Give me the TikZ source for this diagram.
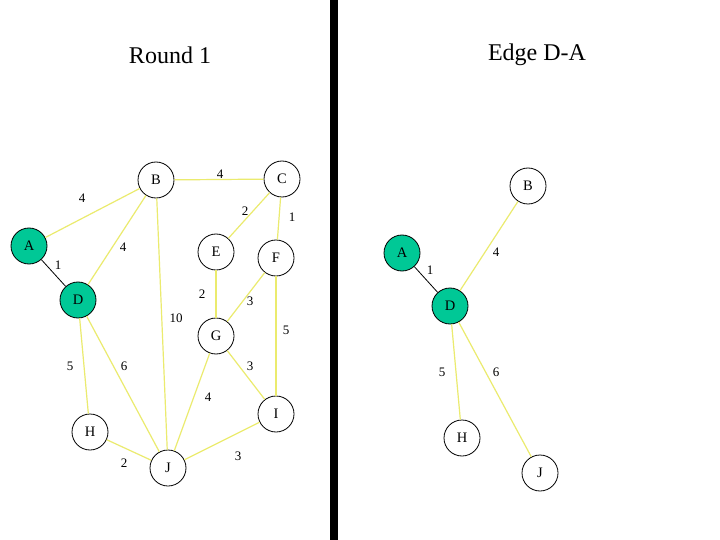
\documentclass[tikz,border=0pt]{standalone}
\usepackage{fontspec}
\setmainfont{Liberation Serif}
\definecolor{teal1}{RGB}{0,200,150}
\definecolor{ylw}{RGB}{235,235,110}
\begin{document}
\begin{tikzpicture}[x=1pt,y=-1pt,
  vtx/.style={circle,draw=black,line width=0.8pt,fill=white,minimum size=36pt,inner sep=0pt,font=\fontsize{14.5}{14.5}\selectfont},
  sel/.style={vtx,fill=teal1},
  yedge/.style={draw=ylw,line width=1.2pt},
  bedge/.style={draw=black,line width=0.8pt},
  wt/.style={font=\fontsize{13}{13}\selectfont,inner sep=0pt},
  ttl/.style={font=\fontsize{24}{24}\selectfont,inner sep=0pt}]
\useasboundingbox (0,0) rectangle (720,540);
\fill[white] (0,0) rectangle (720,540);
% divider
\fill[black] (330,0) rectangle (338,540);
% titles
\node[ttl] (t1) at (170,55) {Round 1};
\node[ttl] (t2) at (537,55) {Edge D-A};
% left graph nodes
\node[vtx] (B) at (156,180) {B};
\node[vtx] (C) at (282,179) {C};
\node[sel] (A) at (29,246) {A};
\node[sel] (D) at (78,300) {D};
\node[vtx] (E) at (216,252) {E};
\node[vtx] (F) at (276,258) {F};
\node[vtx] (G) at (216,336) {G};
\node[vtx] (H) at (90,432) {H};
\node[vtx] (J) at (168,468) {J};
\node[vtx] (I) at (276,414) {I};
% left edges
\draw[yedge] (A) -- (B);
\draw[yedge] (B) -- (C);
\draw[yedge] (C) -- (E);
\draw[yedge] (C) -- (F);
\draw[yedge] (B) -- (D);
\draw[bedge] (A) -- (D);
\draw[yedge] (E) -- (G);
\draw[yedge] (F) -- (G);
\draw[yedge] (B) -- (J);
\draw[yedge] (F) -- (I);
\draw[yedge] (D) -- (H);
\draw[yedge] (D) -- (J);
\draw[yedge] (G) -- (I);
\draw[yedge] (G) -- (J);
\draw[yedge] (H) -- (J);
\draw[yedge] (I) -- (J);
% left weights
\node[wt] (wAB) at (82,198) {4};
\node[wt] (wBC) at (220,174) {4};
\node[wt] (wCE) at (245,211) {2};
\node[wt] (wCF) at (292,217) {1};
\node[wt] (wBD) at (123,247) {4};
\node[wt] (wAD) at (58,265) {1};
\node[wt] (wEG) at (202,294) {2};
\node[wt] (wFG) at (250,301) {3};
\node[wt] (wBJ) at (176,318) {10};
\node[wt] (wFI) at (286,330) {5};
\node[wt] (wDH) at (70,366) {5};
\node[wt] (wDJ) at (124,366) {6};
\node[wt] (wGI) at (250,366) {3};
\node[wt] (wGJ) at (208,397) {4};
\node[wt] (wHJ) at (124,463) {2};
\node[wt] (wIJ) at (238,456) {3};
% right graph
\node[vtx] (rB) at (528,186) {B};
\node[sel] (rA) at (402,253) {A};
\node[sel] (rD) at (450,306) {D};
\node[vtx] (rH) at (462,438) {H};
\node[vtx] (rJ) at (540,473) {J};
\draw[yedge] (rD) -- (rB);
\draw[bedge] (rA) -- (rD);
\draw[yedge] (rD) -- (rH);
\draw[yedge] (rD) -- (rJ);
\node[wt] (rw4) at (496,252) {4};
\node[wt] (rw1) at (430,270) {1};
\node[wt] (rw5) at (442,372) {5};
\node[wt] (rw6) at (496,372) {6};
\end{tikzpicture}
\end{document}
